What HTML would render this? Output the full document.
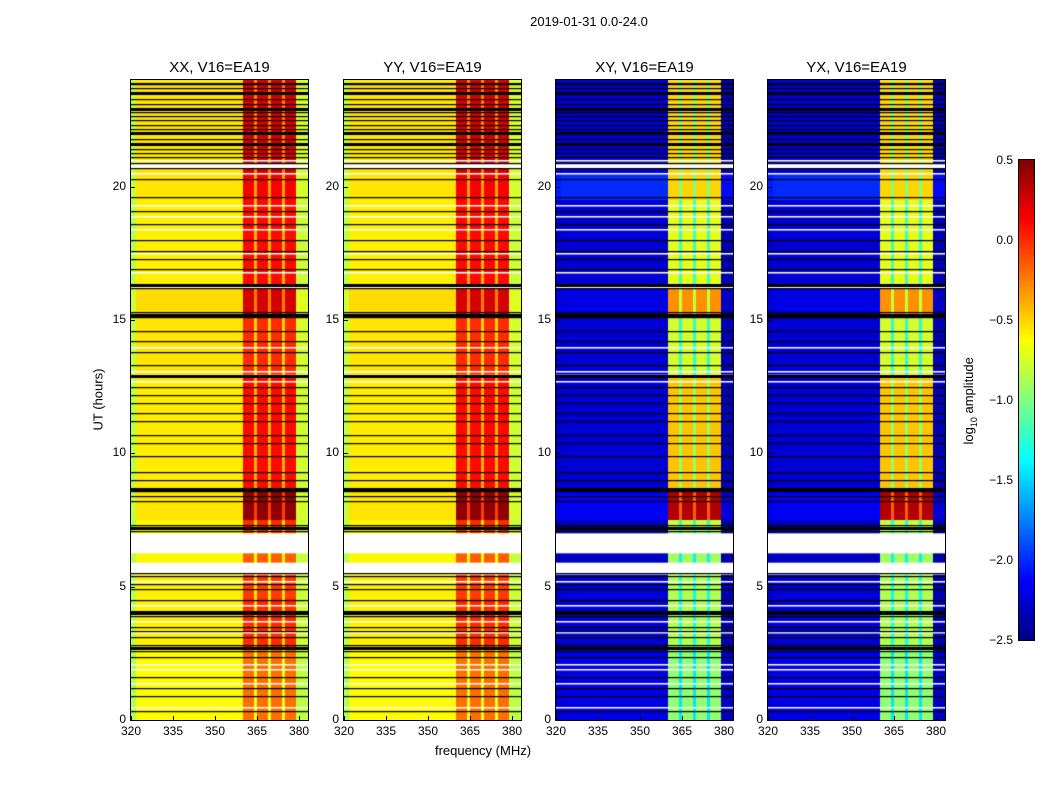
<!DOCTYPE html>
<html><head><meta charset="utf-8">
<style>
body{margin:0;background:#fff;width:1050px;height:800px;position:relative;overflow:hidden;font-family:"Liberation Sans",sans-serif;color:#000}
.t{position:absolute;white-space:nowrap}
canvas{position:absolute}
.frame{position:absolute;border:1px solid #000;box-sizing:border-box}
</style></head><body>
<div class="t" style="left:489px;top:14px;width:200px;text-align:center;font-size:13px">2019-01-31 0.0-24.0</div>
<div class="t" style="left:48px;top:392px;width:100px;text-align:center;font-size:13px;transform:rotate(-90deg)">UT (hours)</div>
<div class="t" style="left:383px;top:743px;width:200px;text-align:center;font-size:13px">frequency (MHz)</div>
<div class="t" style="left:900px;top:392px;width:140px;text-align:center;font-size:13px;transform:rotate(-90deg)">log<sub style="font-size:9px">10</sub> amplitude</div>
<div id="root"></div>
<script>
// ---- data ----
const panelTitles = ["XX, V16=EA19","YY, V16=EA19","XY, V16=EA19","YX, V16=EA19"];
const panelIsCross = [false,false,true,true];
const xTicks = [320,335,350,365,380];
const yTicks = [0,5,10,15,20];
const cbTicks = [0.5,0.0,-0.5,-1.0,-1.5,-2.0,-2.5];
// channel kinds per 1 MHz channel from 320..383: 0 low edge,1 off-band,2 band block,3 band separator,4 upper off-band
const chanKind = [0,0,1,1,1,1,1,1,1,1,1,1,1,1,1,1,1,1,1,1,1,1,1,1,1,1,1,1,1,1,1,1,1,1,1,1,1,1,1,1,2,2,2,2,3,2,2,2,2,3,2,2,2,2,3,2,2,2,2,4,4,4,4,4];
// time segments (hours) and levels (log10 amplitude)
const segStart = [0,2.7,4.6,5.5,7.1,7.5,8.6,12.9,15.2,16.3,19.5,20.5];
const segEnd   = [2.7,4.6,5.5,7.1,7.5,8.6,12.9,15.2,16.3,19.5,20.5,24];
const parOff   = [-0.62,-0.58,-0.58,-0.6,-0.6,-0.55,-0.57,-0.55,-0.52,-0.58,-0.55,-0.55];
const parBand  = [-0.2,0.0,-0.05,-0.15,0.0,0.45,0.1,0.0,0.25,0.1,0.15,0.25];
const crossOff = [-2.2,-2.25,-2.25,-2.3,-2.3,-2.15,-2.25,-2.25,-2.2,-2.25,-2.0,-2.25];
const crossBand= [-0.95,-0.85,-0.85,-0.9,-0.8,0.35,-0.45,-0.75,-0.3,-0.7,-0.5,-0.5];
const whiteGaps = [[5.45,5.9],[6.25,7.0],[12.85,12.95],[16.2,16.35],[20.7,20.85]];
const blackLines = [0.35,0.9,1.2,1.6,2.35,2.6,2.7,2.8,3.1,3.35,3.5,3.9,4.0,4.1,4.5,4.9,5.1,5.4,5.5,7.1,7.2,7.3,8.2,8.4,8.6,8.7,9.0,9.3,9.9,10.4,10.7,11.2,11.5,11.9,12.2,12.5,12.9,13.3,13.8,14.2,14.6,15.1,15.2,15.3,16.2,16.3,16.9,17.3,17.6,18.0,18.6,19.1,19.6,20.3,20.7,20.9,21.1,21.25,21.4,21.6,21.8,22.0,22.15,22.3,22.5,22.65,22.8,23.1,23.3,23.5,23.7,23.85,23.9];
const thickLines = [2.7,4.0,7.2,8.65,12.9,15.2,16.3,21.6,22.0,22.9,23.5];
const whiteLines = [0.5,1.4,1.9,2.1,3.3,3.7,4.3,5.2,12.7,13.1,14.0,16.8,17.5,18.4,18.9,19.3,20.5,21.0];

// ---- layout ----
const panelX = [131,344,556,768], PW=177, PT=80, PB=720;
const fMin=320, fMax=383.2, tMin=0, tMax=24;
const xs = f => (f-fMin)/(fMax-fMin)*PW;
const ys = t => (PB-PT) - (t-tMin)/(tMax-tMin)*(PB-PT);
const vmin=-2.5, vmax=0.5;
function jet(v){
  let x=(v-vmin)/(vmax-vmin); x=Math.max(0,Math.min(1,x));
  const c=t=>Math.round(255*Math.max(0,Math.min(1,1.5-Math.abs(4*x-t))));
  return `rgb(${c(3)},${c(2)},${c(1)})`;
}
function cellVal(k,s,cross){
  const off = cross?crossOff[s]:parOff[s], band = cross?crossBand[s]:parBand[s];
  if(k===0) return cross?off-0.05:off-0.25;
  if(k===1) return off;
  if(k===2) return band;
  if(k===3) return cross?band-0.5:band-0.5;
  return cross?off-0.1:off-0.2;
}
const root=document.getElementById('root');
panelX.forEach((px,p)=>{
  const cv=document.createElement('canvas');
  cv.width=PW;cv.height=PB-PT;cv.style.left=px+'px';cv.style.top=PT+'px';
  
  
  root.appendChild(cv);
  const g=cv.getContext('2d');
  for(let s=0;s<segStart.length;s++){
    for(let c=0;c<chanKind.length;c++){
      const f0=fMin+c, f1=Math.min(fMin+c+1,fMax);
      g.fillStyle=jet(cellVal(chanKind[c],s,panelIsCross[p]));
      const x0=xs(f0),x1=xs(f1),y0=ys(segEnd[s]),y1=ys(segStart[s]);
      g.fillRect(Math.floor(x0),Math.floor(y0),Math.ceil(x1)-Math.floor(x0),Math.ceil(y1)-Math.floor(y0));
    }
  }
  g.fillStyle='#fff';
  whiteGaps.forEach(w=>g.fillRect(0,ys(w[1]),PW,ys(w[0])-ys(w[1])));
  whiteLines.forEach(t=>g.fillRect(0,Math.round(ys(t)),PW,1.5));
  g.fillStyle='#000';
  blackLines.forEach(t=>g.fillRect(0,Math.round(ys(t)),PW,1.2));
  thickLines.forEach(t=>g.fillRect(0,Math.round(ys(t))-1,PW,3));
  const fr=document.createElement('div');fr.className='frame';
  fr.style.cssText=`left:${px-1}px;top:${PT-1}px;width:${PW+2}px;height:${PB-PT+2}px`;
  
  
  root.appendChild(fr);
  const ti=document.createElement('div');ti.className='t';ti.textContent=panelTitles[p];
  ti.style.cssText=`left:${px-20}px;width:${PW+40}px;text-align:center;top:59px;font-size:15px`;
  
  
  root.appendChild(ti);
  xTicks.forEach(v=>{
    const l=document.createElement('div');l.className='t';l.textContent=v;
    l.style.cssText=`left:${px+xs(v)-20}px;width:40px;text-align:center;top:724px;font-size:12px`;
    
    
    root.appendChild(l);
    const tk=document.createElement('div');
    tk.style.cssText=`position:absolute;left:${px+xs(v)}px;top:${PB-4}px;width:1px;height:4px;background:#000`;
    
    
    root.appendChild(tk);
  });
  yTicks.forEach(v=>{
    const l=document.createElement('div');l.className='t';l.textContent=v;
    l.style.cssText=`left:${px-35}px;width:30px;text-align:right;top:${PT+ys(v)-8}px;font-size:12px`;
    
    
    root.appendChild(l);
    const tk=document.createElement('div');
    tk.style.cssText=`position:absolute;left:${px}px;top:${PT+ys(v)}px;width:4px;height:1px;background:#000`;
    
    
    root.appendChild(tk);
  });
});
// colorbar
const cb=document.createElement('canvas');cb.width=15;cb.height=480;cb.style.left='1019px';cb.style.top='160px';


root.appendChild(cb);
const cg=cb.getContext('2d');
for(let i=0;i<480;i++){cg.fillStyle=jet(vmax-(i/480)*(vmax-vmin));cg.fillRect(0,i,15,1);}
const cf=document.createElement('div');cf.className='frame';cf.style.cssText='left:1018px;top:159px;width:17px;height:482px';


root.appendChild(cf);
cbTicks.forEach(v=>{
  const y=160+(vmax-v)/(vmax-vmin)*480;
  const l=document.createElement('div');l.className='t';l.textContent=(v<0?'\u2212':'')+Math.abs(v).toFixed(1);
  l.style.cssText=`left:972px;width:41px;text-align:right;top:${y-7}px;font-size:12px`;
  
  
  root.appendChild(l);
});
</script>
</body></html>
